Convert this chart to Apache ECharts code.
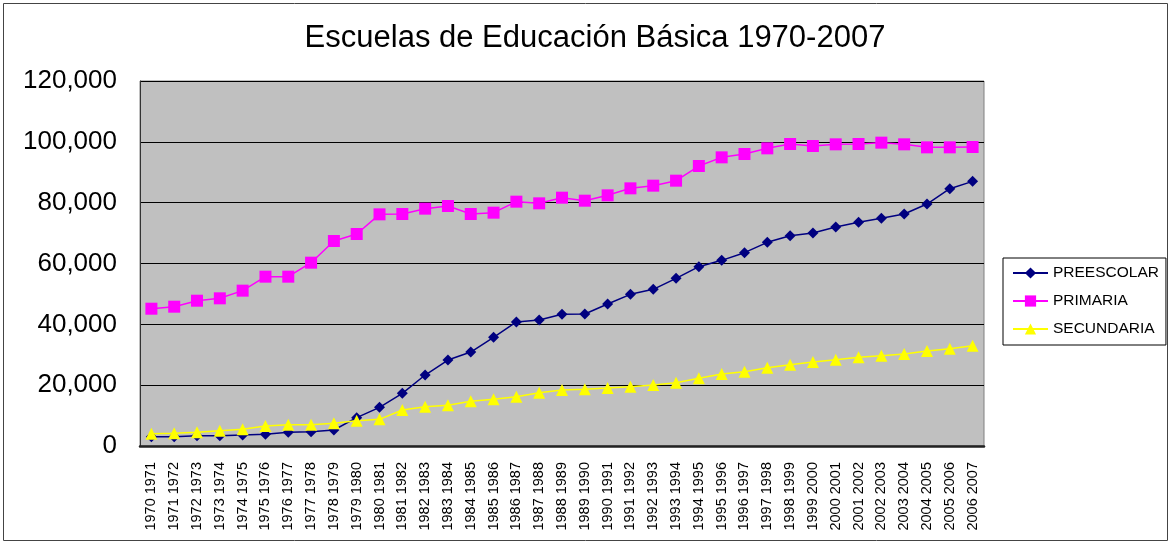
<!DOCTYPE html>
<html>
<head>
<meta charset="utf-8">
<script src="https://cdn.jsdelivr.net/npm/echarts@6/dist/echarts.min.js"></script>
<style>
html,body{margin:0;padding:0;background:#fff;}
#c{width:1171px;height:545px;}
</style>
</head>
<body>
<div id="c"></div>
<script>
const categories = ["1970 1971","1971 1972","1972 1973","1973 1974","1974 1975","1975 1976","1976 1977","1977 1978","1978 1979","1979 1980","1980 1981","1981 1982","1982 1983","1983 1984","1984 1985","1985 1986","1986 1987","1987 1988","1988 1989","1989 1990","1990 1991","1991 1992","1992 1993","1993 1994","1994 1995","1995 1996","1996 1997","1997 1998","1998 1999","1999 2000","2000 2001","2001 2002","2002 2003","2003 2004","2004 2005","2005 2006","2006 2007"];
const preescolar = [3070,3070,3400,3400,3620,3840,4490,4710,5260,9310,12710,17310,23340,28270,30900,35730,40770,41420,43290,43400,46680,49860,51500,55120,58950,61040,63560,66960,69150,70030,72000,73530,74850,76270,79560,84600,87010];
const primaria = [45140,45800,47770,48550,51070,55670,55670,60270,67400,69700,76160,76270,78030,78900,76270,76710,80330,79780,81640,80650,82410,84710,85590,87230,92050,94900,96000,97860,99290,98630,99180,99290,99730,99180,98190,98190,98300];
const secundaria = [4050,4160,4490,5040,5480,6580,7010,7010,7450,8330,8770,11840,12930,13370,14680,15340,16220,17530,18410,18630,19070,19510,20050,20820,22240,23670,24430,25750,26740,27620,28380,29150,29700,30250,31230,31990,32980];
const titleText = "Escuelas de Educación Básica 1970-2007";
const seriesNames = ["PREESCOLAR","PRIMARIA","SECUNDARIA"];

const chart = echarts.init(document.getElementById('c'), null, {renderer:'canvas'});
const font = 'Arial, "Liberation Sans", sans-serif';
chart.setOption({
  animation:false,
  backgroundColor:'#fff',
  graphic:[{type:'rect', shape:{x:3.5,y:3.5,width:1164,height:537}, style:{fill:'none', stroke:'#444', lineWidth:1}, silent:true, z:-1}],
  title:{text:titleText, left:590, top:18, textAlign:'center',
    textStyle:{fontFamily:font, fontSize:31, fontWeight:'normal', color:'#000'}},
  legend:{orient:'vertical', left:1003, top:258,
    padding:[7,7,8,9], itemGap:12, itemWidth:35, itemHeight:14,
    borderColor:'#000', borderWidth:1, backgroundColor:'#fff',
    textStyle:{fontFamily:font, fontSize:15.5, color:'#000'},
    data:seriesNames},
  grid:{left:140, top:81, right:187, bottom:99, show:true, backgroundColor:'#c0c0c0', borderColor:'#808080', borderWidth:1},
  xAxis:{type:'category', data:categories, boundaryGap:true,
    axisLine:{lineStyle:{color:'#222', width:2.5}},
    axisTick:{show:false},
    axisLabel:{rotate:90, interval:0, fontFamily:font, fontSize:14.5, color:'#000', margin:16}},
  yAxis:{type:'value', min:0, max:120000, interval:20000,
    axisLine:{show:true, lineStyle:{color:'#333'}},
    axisTick:{show:false},
    splitLine:{lineStyle:{color:'#000', width:1}},
    axisLabel:{fontFamily:font, fontSize:26, color:'#000', margin:23,
      formatter:v=>v.toLocaleString('en-US')}},
  series:[
    {name:seriesNames[0], type:'line', data:preescolar, symbol:'diamond', symbolSize:11,
      lineStyle:{color:'#000080', width:1.5}, itemStyle:{color:'#000080'}},
    {name:seriesNames[1], type:'line', data:primaria, symbol:'rect', symbolSize:12,
      lineStyle:{color:'#ff00ff', width:1.5}, itemStyle:{color:'#ff00ff'}},
    {name:seriesNames[2], type:'line', data:secundaria, symbol:'triangle', symbolSize:12,
      lineStyle:{color:'#ffff00', width:1.5}, itemStyle:{color:'#ffff00'}}
  ]
});
</script>
</body>
</html>
